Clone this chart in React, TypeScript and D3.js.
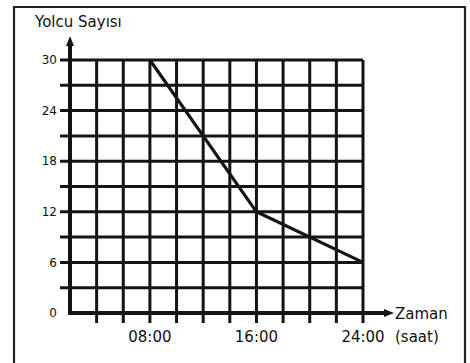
import React from "react";
import * as d3 from "d3";

const hours = [8, 16, 24];
const passengers = [30, 12, 6];
const xGridHours = [4, 6, 8, 10, 12, 14, 16, 18, 20, 22, 24];
const yGridValues = [3, 6, 9, 12, 15, 18, 21, 24, 27, 30];
const yTickLabels = [0, 6, 12, 18, 24, 30];
const xTickLabels = ["08:00", "16:00", "24:00"];
const xTickHours = [8, 16, 24];

export default function App() {
  const W = 470, H = 363;
  const x = d3.scaleLinear().domain([2, 24]).range([70, 363]);
  const y = d3.scaleLinear().domain([0, 30]).range([313, 60]);
  const line = d3.line<number>().x((_, i) => x(hours[i])).y((d) => y(d));
  const col = "#141414";
  const font = "'DejaVu Sans', sans-serif";
  return (
    <svg width={W} height={H} style={{ position: "absolute", left: 0, top: 0 }}>
      <rect x={0} y={0} width={W} height={H} fill="#fff" />
      <path d={`M14,${H + 5} V7 H465 V${H + 5}`} fill="none" stroke="#222" strokeWidth={2.2} />
      {yGridValues.map((v) => (
        <line key={"h" + v} x1={60} x2={x(24)} y1={y(v)} y2={y(v)} stroke={col} strokeWidth={3} />
      ))}
      {xGridHours.map((h) => (
        <line key={"v" + h} x1={x(h)} x2={x(h)} y1={y(30)} y2={y(0) + 10} stroke={col} strokeWidth={3} />
      ))}
      <line x1={x(2)} x2={x(2)} y1={y(0) + 2} y2={44} stroke={col} strokeWidth={4} />
      <path d={`M${x(2)},36 L${x(2) - 4},46 L${x(2) + 4},46 Z`} fill={col} />
      <line x1={x(2) - 2} x2={386} y1={y(0)} y2={y(0)} stroke={col} strokeWidth={4} />
      <path d={`M394,${y(0)} L384,${y(0) - 4} L384,${y(0) + 4} Z`} fill={col} />
      <path d={line(passengers) || ""} fill="none" stroke={col} strokeWidth={3.2} strokeLinejoin="round" />
      {yTickLabels.map((v) => (
        <text key={"yl" + v} x={57} y={y(v)} dy="0.35em" textAnchor="end" fontFamily={font} fontSize={12} fill="#111">
          {v}
        </text>
      ))}
      {xTickLabels.map((t, i) => (
        <text key={"xl" + t} x={x(xTickHours[i])} y={342} textAnchor="middle" fontFamily={font} fontSize={15} fill="#111">
          {t}
        </text>
      ))}
      <text x={35} y={27} fontFamily={font} fontSize={15} fill="#111">Yolcu Sayısı</text>
      <text x={395} y={319} fontFamily={font} fontSize={15} fill="#111">Zaman</text>
      <text x={395} y={342} fontFamily={font} fontSize={15} fill="#111">(saat)</text>
    </svg>
  );
}
